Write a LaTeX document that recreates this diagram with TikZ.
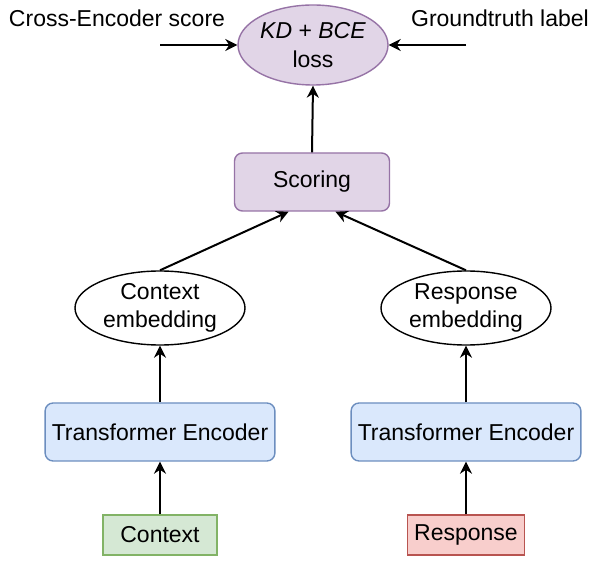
\documentclass[tikz,border=0pt]{standalone}
\usepackage{fontspec}
\setmainfont{Liberation Sans}
\usetikzlibrary{positioning,calc}
\usetikzlibrary{arrows.meta}
\usetikzlibrary{shapes.geometric}

\definecolor{purplefill}{HTML}{E1D5E7}
\definecolor{purpleline}{HTML}{9673A6}
\definecolor{bluefill}{HTML}{DAE8FC}
\definecolor{blueline}{HTML}{6C8EBF}
\definecolor{greenfill}{HTML}{D5E8D4}
\definecolor{greenline}{HTML}{82B366}
\definecolor{redfill}{HTML}{F8CECC}
\definecolor{redline}{HTML}{B85450}

\begin{document}
\begin{tikzpicture}[x=0.5pt, y=-0.5pt, font=\fontsize{11.5}{14}\selectfont,
  >={Stealth[length=6pt,width=6pt]},
  arr/.style={->, line width=1pt},
  encbox/.style={draw=blueline, fill=bluefill, line width=0.7pt, rounded corners=4pt, minimum width=114pt, minimum height=29pt},
  embell/.style={draw, ellipse, line width=0.7pt, minimum width=85pt, minimum height=37pt, inner sep=0pt, align=center}]
  % \draw[step=50, gray!20!white, very thin] (0,0) grid (590,561);
  \useasboundingbox (0,0) rectangle (590,561);

  \node[draw=purpleline, fill=purplefill, ellipse, line width=0.7pt, minimum width=75pt, minimum height=40pt, inner sep=0pt, align=center] at (313, 45) (loss) {\textit{KD} + \textit{BCE}\\[0.5pt]loss};
  \node[draw=purpleline, fill=purplefill, line width=0.7pt, rounded corners=4pt, minimum width=77.5pt, minimum height=29pt] at (312, 182) (scoring) {Scoring};

  \node at (117, 18) (ceScore) {Cross-Encoder score};
  \node at (500, 18) (gtLabel) {Groundtruth label};
  \coordinate (ceStart) at (160, 45);
  \coordinate (gtStart) at (466, 45);

  \node[embell] at (160, 308) (ctxEmb) {Context\\embedding};
  \node[embell] at (466, 308) (respEmb) {Response\\embedding};

  \node[encbox] at (160, 432) (ctxEnc) {Transformer Encoder};
  \node[encbox] at (466, 432) (respEnc) {Transformer Encoder};

  \node[draw=greenline, fill=greenfill, line width=0.7pt, minimum width=57pt, minimum height=20pt] at (160, 535) (ctx) {Context};
  \node[draw=redline, fill=redfill, line width=0.7pt, minimum width=57pt, minimum height=20pt] at (466, 535) (resp) {Response};

  \draw [arr] (ctx.north) -- (ctxEnc.south);
  \draw [arr] (resp.north) -- (respEnc.south);
  \draw [arr] (ctxEnc.north) -- (ctxEmb.south);
  \draw [arr] (respEnc.north) -- (respEmb.south);
  \draw [arr] (ctxEmb.north) -- ($(scoring.south)!0.3!(scoring.south west)$);
  \draw [arr] (respEmb.north) -- ($(scoring.south)!0.3!(scoring.south east)$);
  \draw [arr] (scoring.north) -- (loss.south);
  \draw [arr] (ceStart) -- (loss.west);
  \draw [arr] (gtStart) -- (loss.east);

\end{tikzpicture}
\end{document}
